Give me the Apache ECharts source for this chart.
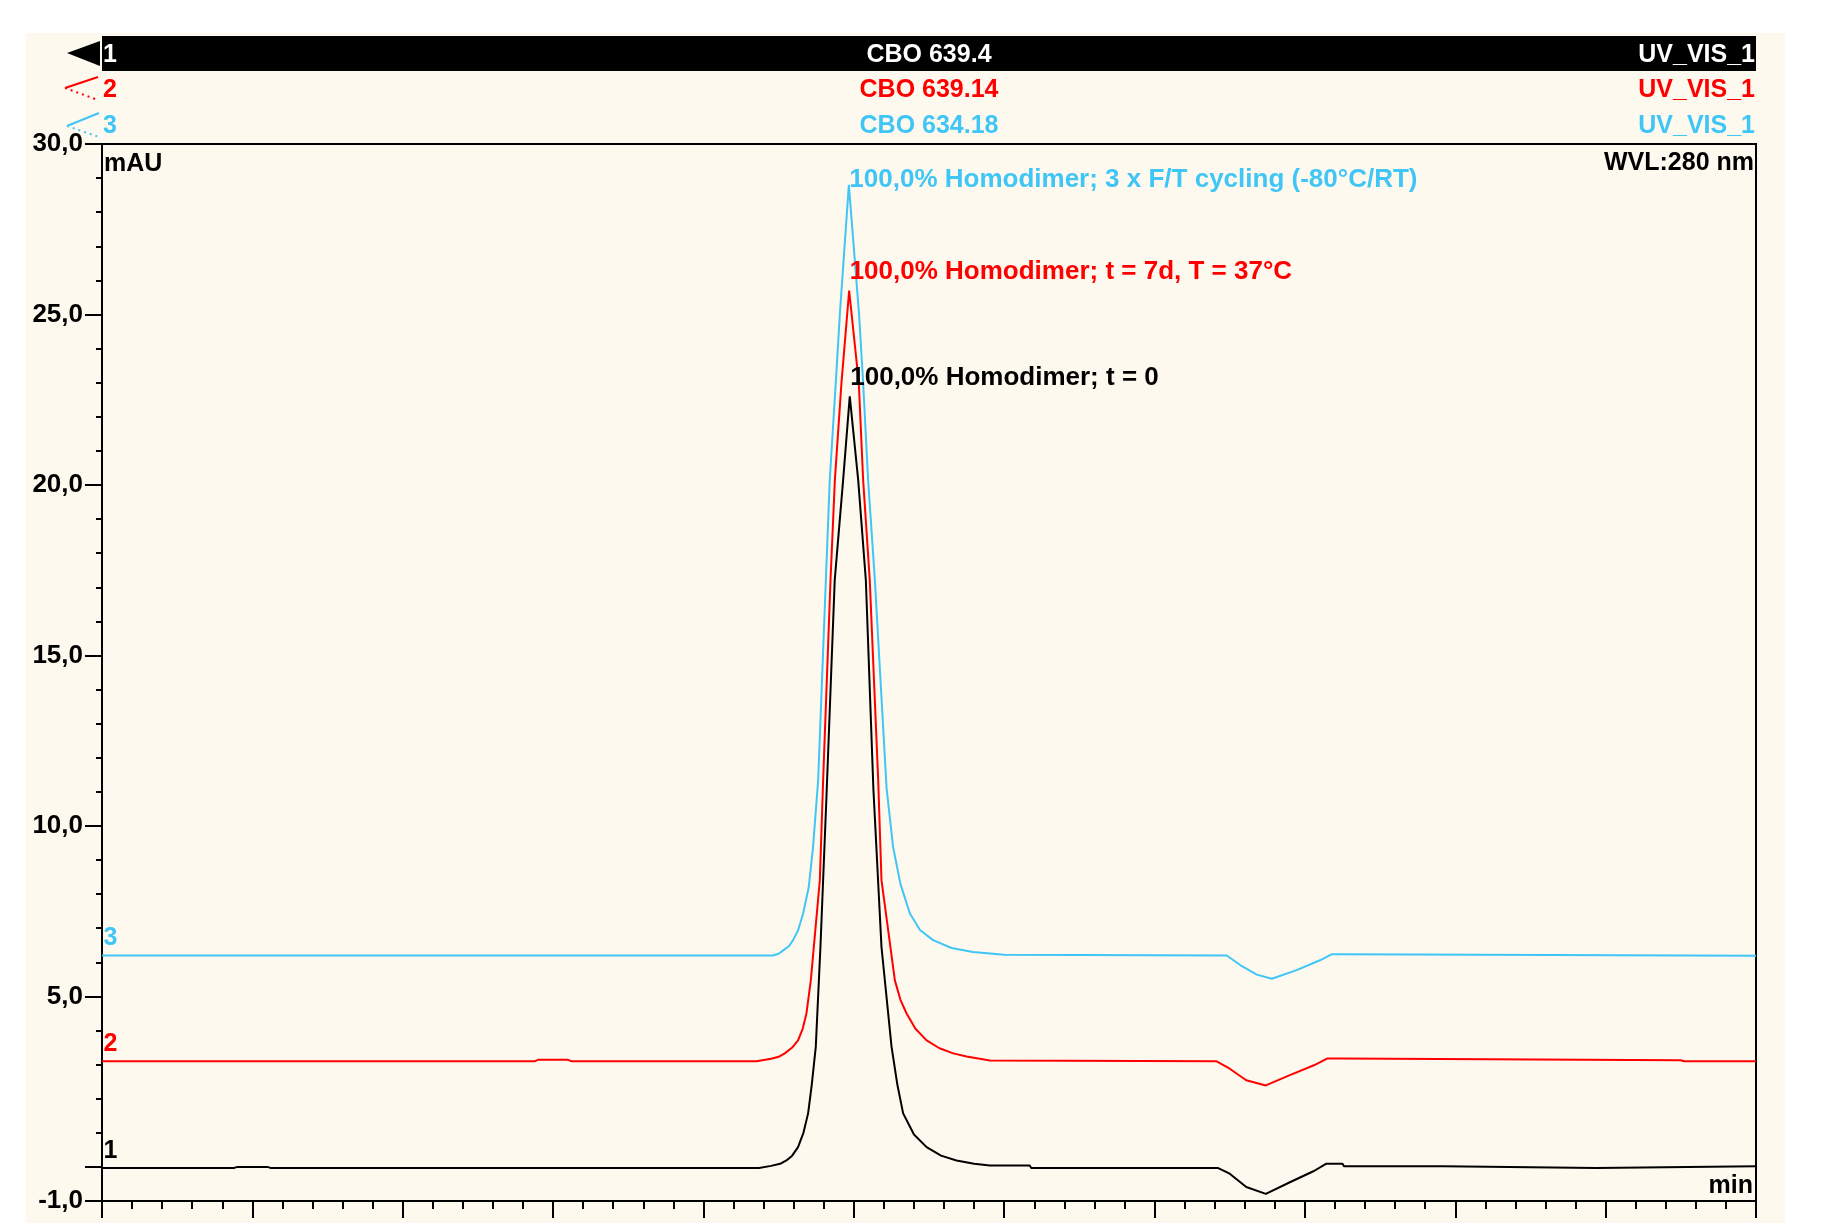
<!DOCTYPE html>
<html>
<head>
<meta charset="UTF-8">
<title>CBO 639 / 634 - UV_VIS_1</title>
<style>
html,body{margin:0;padding:0;width:100%;height:100%;background:#fff;}
#paper{position:absolute;left:26px;top:33px;width:1759px;height:1190px;background:#fef9ee;}
#main{position:absolute;left:0;top:0;width:1826px;height:1225px;}
</style>
</head>
<body>
<div id="paper"></div>
<div id="main"></div>
<script src="https://cdn.jsdelivr.net/npm/echarts@6/dist/echarts.min.js"></script>
<script>
// trace headers
var traceIds = ['1', '2', '3'];
var sampleNames = ['CBO 639.4', 'CBO 639.14', 'CBO 634.18'];
var channelNames = ['UV_VIS_1', 'UV_VIS_1', 'UV_VIS_1'];
var peakNotes = [
    '100,0% Homodimer; t = 0',
    '100,0% Homodimer; t = 7d, T = 37°C',
    '100,0% Homodimer; 3 x F/T cycling (-80°C/RT)'
];

// y axis ticks (mAU)
var yLabelValues = [-1, 5, 10, 15, 20, 25, 30];
var yMajorTicks = [-1, 0, 5, 10, 15, 20, 25, 30];

// [time, mAU] (x axis has no labels, 0..11 major ticks)
var trace1 = [
    [0, -0.03], [0.88, -0.03], [0.9, 0.0], [1.1, 0.0], [1.12, -0.03], [4.37, -0.03], [4.38, 0.0],
    [4.45, 0.03], [4.51, 0.09], [4.552, 0.19], [4.59, 0.33], [4.629, 0.58], [4.665, 1.0],
    [4.696, 1.57], [4.72, 2.4], [4.747, 3.52], [4.778, 6.45], [4.818, 10.85], [4.873, 17.21],
    [4.929, 20.15], [4.973, 22.6], [5.029, 20.15], [5.08, 17.21], [5.13, 11.1], [5.184, 6.45],
    [5.251, 3.52], [5.29, 2.4], [5.328, 1.57], [5.4, 0.95], [5.484, 0.58], [5.58, 0.33],
    [5.683, 0.19], [5.8, 0.09], [5.905, 0.04], [6.17, 0.04], [6.18, -0.03], [7.42, -0.03],
    [7.5, -0.2], [7.61, -0.59], [7.74, -0.79], [7.9, -0.45], [8.06, -0.12], [8.14, 0.09],
    [8.25, 0.09], [8.26, 0.02], [8.92, 0.02], [8.93, -0.03], [9.94, -0.03], [9.95, 0.02], [11, 0.02]
];
var trace2 = [
    [0, 3.1], [2.88, 3.1], [2.9, 3.14], [3.1, 3.14], [3.12, 3.1], [4.353, 3.1], [4.45, 3.17],
    [4.5, 3.23], [4.541, 3.33], [4.59, 3.5], [4.629, 3.71], [4.66, 4.05], [4.685, 4.5],
    [4.714, 5.47], [4.774, 8.41], [4.796, 11.35], [4.845, 17.21], [4.874, 20.15], [4.918, 23.0],
    [4.969, 25.7], [5.033, 23.0], [5.062, 20.15], [5.106, 17.21], [5.162, 11.35], [5.184, 8.41],
    [5.273, 5.47], [5.31, 4.9], [5.351, 4.5], [5.41, 4.05], [5.484, 3.71], [5.57, 3.48],
    [5.661, 3.33], [5.75, 3.24], [5.905, 3.12], [7.41, 3.1], [7.5, 2.88], [7.61, 2.54],
    [7.74, 2.39], [7.9, 2.69], [8.06, 2.98], [8.15, 3.18], [8.24, 3.18], [8.25, 3.13],
    [10.5, 3.13], [10.52, 3.1], [11, 3.1]
];
var trace3 = [
    [0, 6.2], [4.461, 6.2], [4.5, 6.25], [4.53, 6.35], [4.57, 6.48], [4.596, 6.65], [4.63, 6.95],
    [4.663, 7.43], [4.7, 8.2], [4.729, 9.39], [4.763, 11.35], [4.814, 17.21], [4.84, 20.15],
    [4.88, 23.0], [4.907, 25.0], [4.967, 28.8], [5.035, 25.0], [5.062, 23.0], [5.095, 20.15],
    [5.14, 17.21], [5.218, 11.1], [5.261, 9.39], [5.31, 8.3], [5.373, 7.43], [5.44, 6.95],
    [5.527, 6.65], [5.65, 6.42], [5.792, 6.3], [6.0, 6.22], [7.48, 6.2], [7.57, 5.92],
    [7.68, 5.64], [7.78, 5.52], [7.945, 5.77], [8.1, 6.06], [8.18, 6.24], [8.25, 6.24],
    [8.26, 6.19], [11, 6.19]
];

var traces = [trace1, trace2, trace3];
var colors = ['#000000', '#ff0000', '#40c6f6'];
var noteOffsets = [[0, -18], [0, -19], [0, -5]];
var FONT = '"Liberation Sans", Arial, sans-serif';

function fmt(v) {
    return v.toFixed(1).replace('.', ',');
}

function peakOf(data) {
    var best = data[0];
    data.forEach(function (p) { if (p[1] > best[1]) best = p; });
    return best;
}

var series = [];
// draw 3 first so trace 1 ends up on top
for (var i = traces.length - 1; i >= 0; i--) {
    var d = traces[i];
    series.push({
        name: traceIds[i],
        type: 'line',
        data: d,
        symbol: 'none',
        smooth: false,
        lineStyle: { color: colors[i], width: 2 },
        itemStyle: { color: colors[i] },
        z: 5 - i,
        markPoint: {
            symbol: 'circle',
            symbolSize: 1,
            itemStyle: { color: 'rgba(0,0,0,0)' },
            label: {
                show: true, position: 'right', distance: 0,
                color: colors[i], fontFamily: FONT, fontWeight: 'bold', fontSize: 26
            },
            data: [
                { coord: peakOf(d), label: { formatter: peakNotes[i], offset: noteOffsets[i] } },
                { coord: [0, d[0][1]], label: { formatter: traceIds[i], offset: [1, -17], fontSize: 25 } }
            ]
        }
    });
}

// header rows, markers and corner texts
var rowY = [55, 90, 126];
var graphics = [
    { type: 'rect', shape: { x: 102, y: 36, width: 1654, height: 35 }, style: { fill: '#000' } },
    { type: 'polygon', shape: { points: [[67, 53], [100, 41], [100, 66]] }, style: { fill: '#000' } },
    { type: 'polyline', shape: { points: [[65, 88], [98, 77]] }, style: { stroke: colors[1], lineWidth: 2 } },
    { type: 'polyline', shape: { points: [[65, 88], [98, 100]] }, style: { stroke: colors[1], lineWidth: 2, lineDash: [2, 4] } },
    { type: 'polyline', shape: { points: [[67, 126], [99, 113]] }, style: { stroke: colors[2], lineWidth: 2 } },
    { type: 'polyline', shape: { points: [[67, 126], [99, 137]] }, style: { stroke: colors[2], lineWidth: 2, lineDash: [2, 4] } }
];
function txt(s, x, y, color, align) {
    return {
        type: 'text', z: 10,
        style: {
            text: s, x: x, y: y, fill: color, textAlign: align, textVerticalAlign: 'middle',
            font: 'bold 25px ' + FONT
        }
    };
}
for (var r = 0; r < 3; r++) {
    var c = r === 0 ? '#ffffff' : colors[r];
    graphics.push(txt(traceIds[r], 103, rowY[r], c, 'left'));
    graphics.push(txt(sampleNames[r], 929, rowY[r], c, 'center'));
    graphics.push(txt(channelNames[r], 1755, rowY[r], c, 'right'));
}
graphics.push(txt('mAU', 104, 164, '#000', 'left'));
graphics.push(txt('WVL:280 nm', 1754, 163, '#000', 'right'));
graphics.push(txt('min', 1753, 1186, '#000', 'right'));

var axisStroke = { color: '#000', width: 2 };
var myChart = echarts.init(document.getElementById('main'));
myChart.setOption({
    backgroundColor: 'transparent',
    animation: false,
    grid: {
        left: 102, top: 144, right: 70, bottom: 24,
        show: true, borderColor: '#000', borderWidth: 2, backgroundColor: 'transparent',
        outerBoundsMode: 'none'
    },
    xAxis: {
        type: 'value', min: 0, max: 11, interval: 1,
        axisLine: { show: true, onZero: false, lineStyle: axisStroke },
        axisTick: { show: true, length: 17, lineStyle: axisStroke },
        minorTick: { show: true, splitNumber: 5, length: 8, lineStyle: axisStroke },
        axisLabel: { show: false },
        splitLine: { show: false }
    },
    yAxis: [
        {
            type: 'value', min: -1, max: 30, interval: 1,
            axisLine: { show: true, onZero: false, lineStyle: axisStroke },
            axisTick: { show: true, length: 6, lineStyle: axisStroke },
            axisLabel: { show: false },
            splitLine: { show: false }
        },
        {
            type: 'value', min: -1, max: 30, position: 'left',
            axisLine: { show: false, onZero: false },
            axisTick: { show: true, length: 17, customValues: yMajorTicks, lineStyle: axisStroke },
            axisLabel: {
                show: true, customValues: yLabelValues, formatter: fmt, margin: 19,
                color: '#000', fontFamily: FONT, fontWeight: 'bold', fontSize: 26
            },
            splitLine: { show: false }
        }
    ],
    graphic: graphics,
    series: series
});
</script>
</body>
</html>
